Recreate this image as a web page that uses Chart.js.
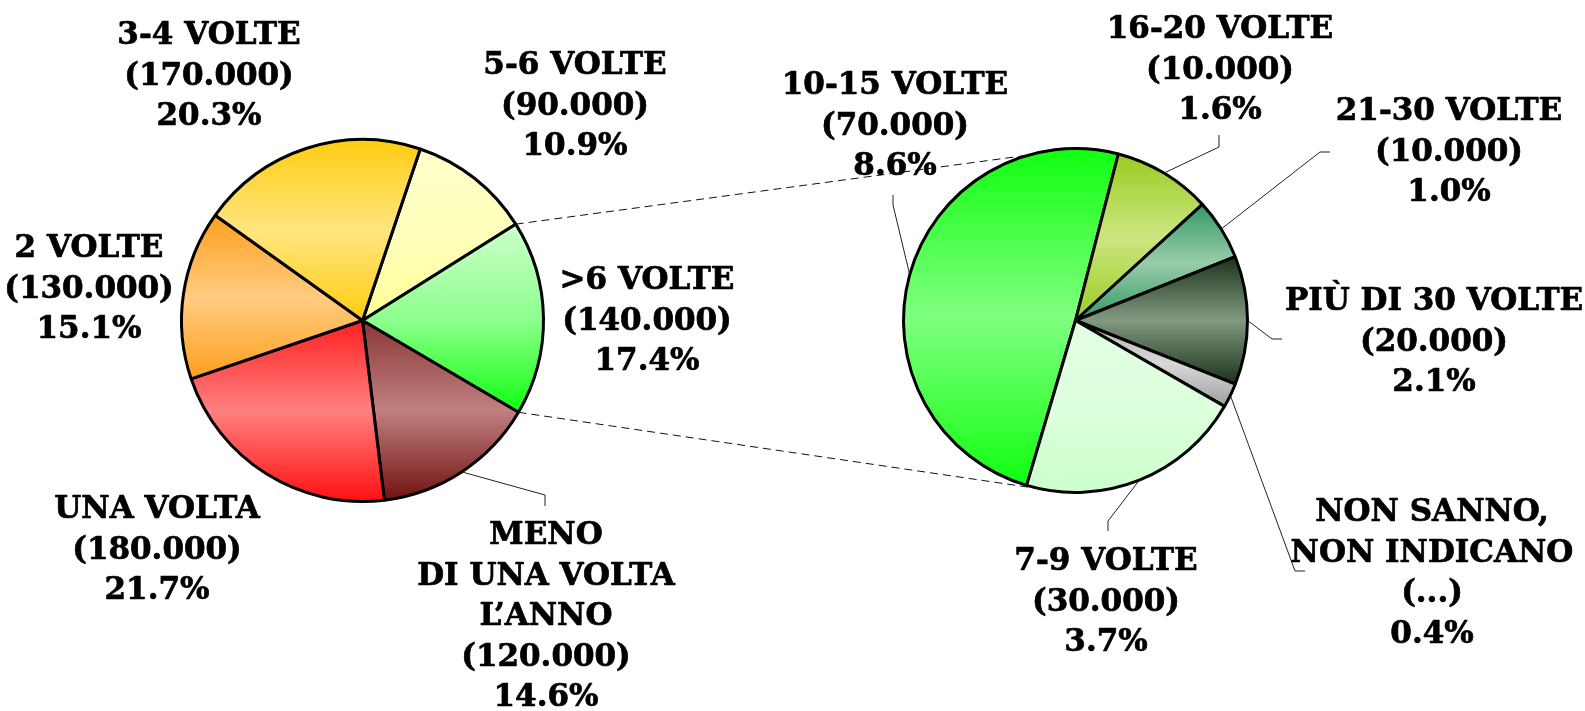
<!DOCTYPE html>
<html><head><meta charset="utf-8">
<script src="https://cdn.jsdelivr.net/npm/chart.js@4/dist/chart.umd.min.js"></script>
<style>
html,body{margin:0;padding:0;background:#fff;}
#wrap{position:relative;width:1585px;height:711px;overflow:hidden;}
#wrap canvas{position:absolute;left:0;top:0;}
</style></head><body>
<div id="wrap"><canvas id="c1"></canvas><canvas id="c2"></canvas></div>
<script>
// ---- data ----
const mainCategories = [['5-6 VOLTE'], ['>6 VOLTE'], ['MENO', 'DI UNA VOLTA', 'L’ANNO'], ['UNA VOLTA'], ['2 VOLTE'], ['3-4 VOLTE']];
const mainCounts = [90000, 140000, 120000, 180000, 130000, 170000];
const mainPercents = [10.9, 17.4, 14.6, 21.7, 15.1, 20.3];

const detailCategories = [['10-15 VOLTE'], ['16-20 VOLTE'], ['21-30 VOLTE'], ['PIÙ DI 30 VOLTE'], ['NON SANNO,', 'NON INDICANO'], ['7-9 VOLTE']];
const detailCounts = [70000, 10000, 10000, 20000, null, 30000];
const detailPercents = [8.6, 1.6, 1.0, 2.1, 0.4, 3.7];
const explodedIndex = 1; // '>6 VOLTE' is split in the second pie

// ---- styles ----
const mainTop = ['#FFFFCC', '#CCFFCC', '#8C3636', '#FF2020', '#FF9F1F', '#FFCC11'];
const mainMid = ['#FFFFBB', '#8FFF8F', '#C08080', '#FF8080', '#FFCC80', '#FFE680'];
const mainBot = ['#FFFF99', '#11FF11', '#731111', '#FF1010', '#FF9F1F', '#FFCC11'];
const detailTop = ['#11FF11', '#99CC22', '#339966', '#1A331A', '#B0B0B0', '#E2FFE2'];
const detailMid = ['#80FF80', '#CCE680', '#99CCAA', '#809980', '#D8D8D8', '#DDFFDD'];
const detailBot = ['#11FF11', '#99CC22', '#339966', '#1A331A', '#A0A0A0', '#CCFFCC'];

const FONT = 'bold 31px "DejaVu Serif"';
const LINE_H = 40.5;
const mainLabelPos = [[575, 63], [647, 278], [546, 533], [157, 507], [89, 246], [209, 33]];
const detailLabelPos = [[895, 83], [1220, 27], [1449, 109], [1434, 299], [1432, 510], [1106, 559]];
const mainLeaders = [null, null, [[545, 495], [545, 506]], null, null, null];
const detailLeaders = [[[893, 205], [893, 195]], [[1219, 147], [1219, 135]], [[1320, 152], [1330, 152]],
  [[1272, 339], [1282, 339]], [[1295, 571], [1305, 571]], [[1108, 521], [1108, 531]]];
const connectorAngles = [344, 191.5]; // degrees, clockwise from top, on the second pie

function fmt(n) {
  if (n === null) return '...';
  return String(n).replace(/\B(?=(\d{3})+(?!\d))/g, '.');
}

function gradientFill(tops, mids, bots) {
  return function (ctx) {
    const chart = ctx.chart, area = chart.chartArea;
    const i = ctx.dataIndex;
    if (!area || ctx.type !== 'data') return mids[i] || '#ccc';
    const data = ctx.dataset.data;
    const total = data.reduce((a, b) => a + b, 0);
    let before = 0;
    for (let k = 0; k < i; k++) before += data[k];
    const rot = chart.options.rotation || 0;
    const d0 = rot - 90 + before / total * 360;
    const d1 = d0 + data[i] / total * 360;
    const cx = (area.left + area.right) / 2, cy = (area.top + area.bottom) / 2;
    const r = (Math.min(area.width, area.height) - 3) / 2;
    const ys = [cy, cy + r * Math.sin(d0 * Math.PI / 180), cy + r * Math.sin(d1 * Math.PI / 180)];
    for (let k = -3; k <= 4; k++) {
      const e = -90 + 180 * k;
      if (e > d0 && e < d1) ys.push(cy + r * Math.sin(e * Math.PI / 180));
    }
    const top = Math.min(...ys), bot = Math.max(...ys);
    const g = chart.ctx.createLinearGradient(0, top, 0, bot + 0.01);
    g.addColorStop(0, tops[i]);
    g.addColorStop(0.5, mids[i]);
    g.addColorStop(1, bots[i]);
    return g;
  };
}

function drawLabels(chart, cats, counts, pcts, pos, leaders) {
  const c = chart.ctx;
  const meta = chart.getDatasetMeta(0);
  c.save();
  // leader lines
  c.strokeStyle = '#222';
  c.lineWidth = 1;
  meta.data.forEach((arc, i) => {
    if (!leaders[i]) return;
    const p = arc.getProps(['x', 'y', 'startAngle', 'endAngle', 'outerRadius'], true);
    const mid = (p.startAngle + p.endAngle) / 2;
    c.beginPath();
    c.moveTo(p.x + p.outerRadius * Math.cos(mid), p.y + p.outerRadius * Math.sin(mid));
    leaders[i].forEach(pt => c.lineTo(pt[0], pt[1]));
    c.stroke();
  });
  // text
  c.font = FONT;
  c.fillStyle = '#000';
  c.strokeStyle = '#000';
  c.lineWidth = 0.7;
  c.lineJoin = 'round';
  c.textAlign = 'center';
  c.textBaseline = 'alphabetic';
  cats.forEach((lines, i) => {
    const all = lines.concat(['(' + fmt(counts[i]) + ')', pcts[i].toFixed(1) + '%']);
    all.forEach((t, j) => {
      const y = pos[i][1] + j * LINE_H + 11;
      c.fillText(t, pos[i][0], y);
      c.strokeText(t, pos[i][0], y);
    });
  });
  c.restore();
}

const baseOpts = {
  responsive: false,
  animation: false,
  events: [],
  plugins: { legend: { display: false }, tooltip: { enabled: false } },
};

const W = 1585, H = 711;
['c1', 'c2'].forEach(id => { const el = document.getElementById(id); el.width = W; el.height = H; });

const mainChart = new Chart(document.getElementById('c1'), {
  type: 'pie',
  data: {
    labels: mainCategories,
    datasets: [{
      data: mainPercents,
      backgroundColor: gradientFill(mainTop, mainMid, mainBot),
      borderColor: '#000',
      borderWidth: 3,
      hoverOffset: 0,
      offset: 0
    }]
  },
  options: Object.assign({}, baseOpts, {
    rotation: 18.6,
    layout: { padding: { left: 180, top: 138, right: W - 545, bottom: H - 503 } }
  }),
  plugins: [{
    id: 'mainLabels',
    afterDraw(chart) { drawLabels(chart, mainCategories, mainCounts, mainPercents, mainLabelPos, mainLeaders); }
  }]
});

const detailChart = new Chart(document.getElementById('c2'), {
  type: 'pie',
  data: {
    labels: detailCategories,
    datasets: [{
      data: detailPercents,
      backgroundColor: gradientFill(detailTop, detailMid, detailBot),
      borderColor: '#000',
      borderWidth: 3,
      hoverOffset: 0,
      offset: 0
    }]
  },
  options: Object.assign({}, baseOpts, {
    rotation: 196.5,
    layout: { padding: { left: 902, top: 147, right: W - 1249, bottom: H - 494 } }
  }),
  plugins: [{
    id: 'detailLabels',
    afterDraw(chart) {
      // dashed connectors from the split slice of the first pie to the second pie
      const src = mainChart.getDatasetMeta(0).data[explodedIndex]
        .getProps(['x', 'y', 'startAngle', 'endAngle', 'outerRadius'], true);
      const dst = chart.getDatasetMeta(0).data[0].getProps(['x', 'y', 'outerRadius'], true);
      const c = chart.ctx;
      c.save();
      c.strokeStyle = '#111';
      c.lineWidth = 1;
      c.setLineDash([8, 5]);
      [src.startAngle, src.endAngle].forEach((a, k) => {
        const b = (connectorAngles[k] - 90) * Math.PI / 180;
        c.beginPath();
        c.moveTo(src.x + src.outerRadius * Math.cos(a), src.y + src.outerRadius * Math.sin(a));
        c.lineTo(dst.x + dst.outerRadius * Math.cos(b), dst.y + dst.outerRadius * Math.sin(b));
        c.stroke();
      });
      c.restore();
      drawLabels(chart, detailCategories, detailCounts, detailPercents, detailLabelPos, detailLeaders);
    }
  }]
});
</script>
</body></html>
